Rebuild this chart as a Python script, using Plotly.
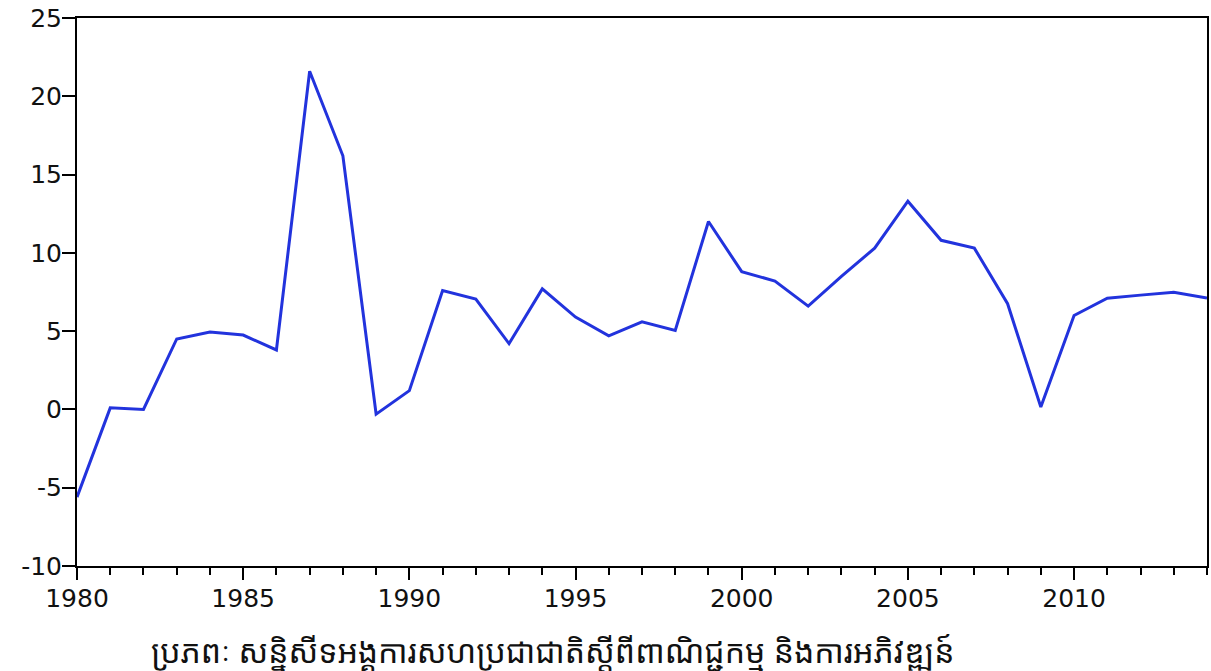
import plotly.graph_objects as go

years = list(range(1980, 2015))
values = [-5.6, 0.1, 0.0, 4.5, 4.95, 4.75, 3.8, 21.6, 16.2, -0.3, 1.2,
          7.6, 7.05, 4.2, 7.7, 5.9, 4.7, 5.6, 5.05, 12.0, 8.8,
          8.2, 6.6, 8.5, 10.3, 13.3, 10.8, 10.3, 6.75, 0.15, 6.0,
          7.1, 7.3, 7.48, 7.12]
y_ticks = [-10, -5, 0, 5, 10, 15, 20, 25]
y_tick_labels = ["-10", "-5", "0", "5", "10", "15", "20", "25"]
x_ticks = [1980, 1985, 1990, 1995, 2000, 2005, 2010]
caption = "ប្រភពៈ សន្និសីទអង្គការសហប្រជាជាតិស្តីពីពាណិជ្ជកម្ម និងការអភិវឌ្ឍន៍"

fig = go.Figure()
fig.add_trace(go.Scatter(x=years, y=values, mode="lines",
                         line=dict(color="#2233dd", width=3), showlegend=False))

font = dict(family="DejaVu Sans, Liberation Sans, Arial", size=25, color="#111111")
fig.update_layout(
    width=1211, height=671,
    margin=dict(l=77, r=4, t=18, b=105),
    paper_bgcolor="white", plot_bgcolor="white",
    font=font,
    xaxis=dict(range=[1980, 2014], tickvals=x_ticks, ticks="outside", ticklen=12,
               tickwidth=2, tickcolor="black", showline=True, linecolor="black",
               linewidth=2, mirror=True, showgrid=False, zeroline=False,
               minor=dict(dtick=1, tick0=1980, ticks="outside", ticklen=7,
                          tickwidth=2, tickcolor="black", showgrid=False),
               tickfont=font, automargin=False, ticklabelstandoff=-3),
    yaxis=dict(range=[-10, 25], tickvals=y_ticks, ticktext=y_tick_labels,
               ticks="outside", ticklen=13,
               tickwidth=2, tickcolor="black", showline=True, linecolor="black",
               linewidth=2, mirror=True, showgrid=False, zeroline=False,
               tickfont=font, automargin=False, ticklabelstandoff=-5),
    annotations=[dict(text=caption, xref="paper", yref="paper", x=0.421, y=-0.154,
                      xanchor="center", yanchor="middle", showarrow=False,
                      font=dict(family="Noto Sans Khmer, Khmer OS, Noto Sans, DejaVu Sans",
                                size=32, color="#111111"))],
)
fig.write_html("out.html", config={"displayModeBar": False},
               post_script="document.body.style.margin='0';document.body.style.overflow='hidden';")
